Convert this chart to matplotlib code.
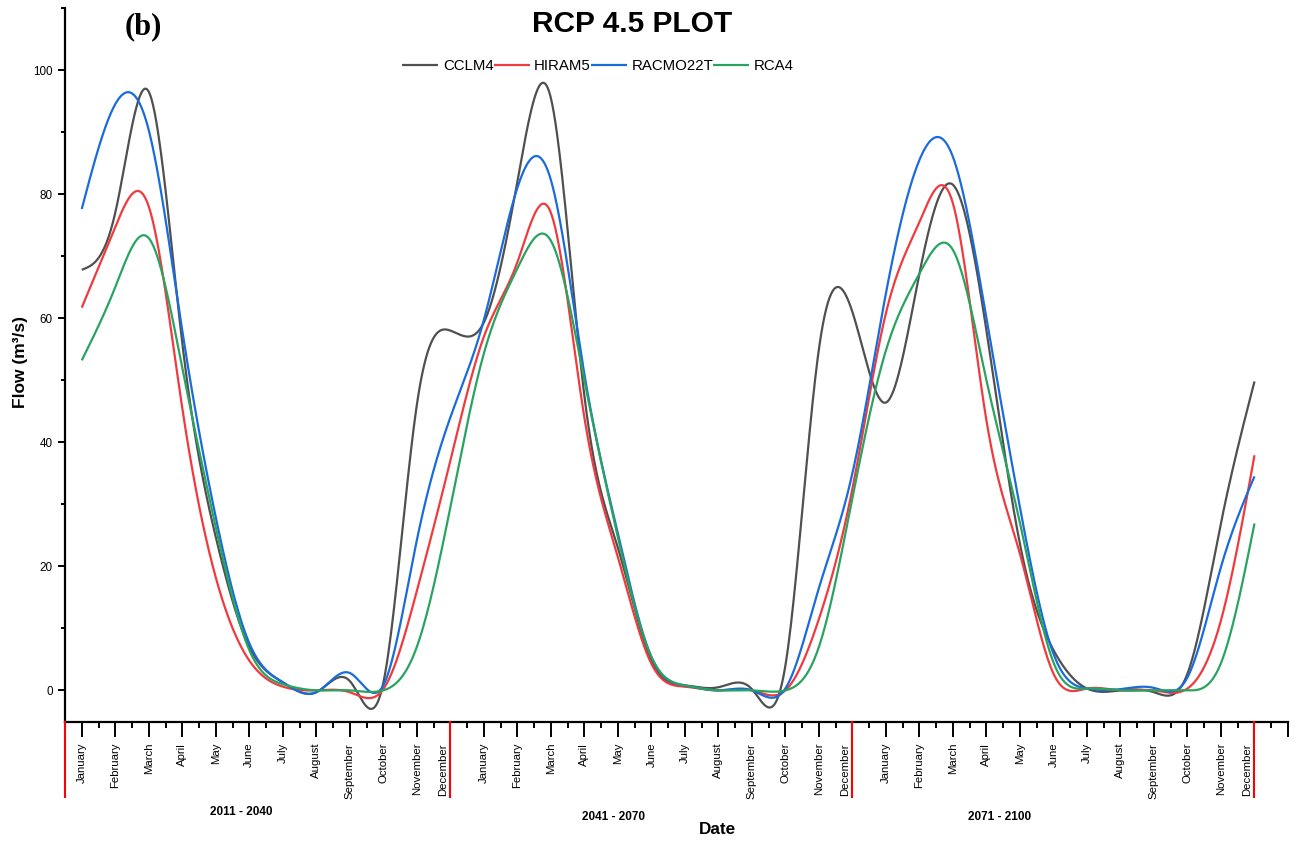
import numpy as np
import matplotlib
matplotlib.use("Agg")
import matplotlib.pyplot as plt
from matplotlib.ticker import FixedLocator
import matplotlib.transforms as mtransforms

plt.rcParams['font.family'] = ['Liberation Sans', 'DejaVu Sans']

# ---------------- data ----------------
months = ["January", "February", "March", "April", "May", "June", "July",
          "August", "September", "October", "November", "December"]
periods = ["2011 - 2040", "2041 - 2070", "2071 - 2100"]
series_names = ["CCLM4", "HIRAM5", "RACMO22T", "RCA4"]

cclm4 = [67.8, 77.0, 96.5, 56.0, 24.7, 7.0, 1.3, -0.3, 1.5, 1.2, 46.0, 58.0,
         59.3, 82.0, 95.5, 47.5, 23.0, 4.8, 0.8, 0.5, 0.2, 4.0, 55.0, 61.0,
         46.4, 67.2, 81.5, 58.0, 23.6, 6.5, 0.3, 0.0, -0.3, 2.7, 27.0, 49.8]
hiram5 = [61.7, 74.7, 78.0, 45.5, 18.2, 4.8, 0.6, 0.0, -0.3, 0.2, 16.0, 37.0,
          57.0, 69.0, 77.0, 44.0, 21.5, 4.3, 0.6, 0.0, 0.0, 0.0, 11.5, 32.5,
          60.8, 75.5, 78.5, 43.5, 22.0, 2.7, 0.3, 0.0, 0.0, 0.3, 11.3, 37.9]
racmo22t = [77.6, 94.5, 90.3, 58.0, 27.9, 7.6, 1.3, -0.3, 2.8, 0.8, 24.2, 44.0,
            59.7, 81.0, 82.3, 51.0, 25.3, 5.4, 0.8, 0.0, 0.0, 0.3, 16.5, 35.0,
            64.0, 85.5, 86.0, 60.0, 29.5, 5.9, 0.3, 0.2, 0.4, 2.1, 19.9, 34.5]
rca4 = [53.2, 65.0, 72.9, 52.0, 26.3, 6.5, 1.0, 0.0, 0.0, 0.0, 7.0, 29.5,
        54.3, 68.0, 72.5, 50.0, 24.7, 5.4, 0.8, 0.0, 0.0, 0.0, 7.0, 31.0,
        54.8, 67.2, 71.0, 50.0, 27.0, 4.5, 0.3, 0.0, 0.0, 0.0, 4.4, 26.9]

series = [cclm4, hiram5, racmo22t, rca4]
colors = ["#505050", "#F03A3E", "#1A6BDB", "#28A460"]

# ---------------- smoothing (natural cubic spline through the points) ----------------
def natural_spline(x, y, xs):
    x = np.asarray(x, float); y = np.asarray(y, float)
    n = len(x)
    h = np.diff(x)
    A = np.zeros((n, n)); r = np.zeros(n)
    A[0, 0] = 1; A[-1, -1] = 1
    for i in range(1, n - 1):
        A[i, i - 1] = h[i - 1]
        A[i, i] = 2 * (h[i - 1] + h[i])
        A[i, i + 1] = h[i]
        r[i] = 6 * ((y[i + 1] - y[i]) / h[i] - (y[i] - y[i - 1]) / h[i - 1])
    M = np.linalg.solve(A, r)
    idx = np.clip(np.searchsorted(x, xs) - 1, 0, n - 2)
    x0 = x[idx]; x1 = x[idx + 1]; hh = x1 - x0
    a = (x1 - xs) / hh; b = (xs - x0) / hh
    return (a * y[idx] + b * y[idx + 1]
            + ((a ** 3 - a) * M[idx] + (b ** 3 - b) * M[idx + 1]) * hh ** 2 / 6)

# ---------------- figure ----------------
W, H = 1295, 842
fig = plt.figure(figsize=(W / 100, H / 100), dpi=100)
ax_l, ax_r, ax_t, ax_b = 65, 1288, 8, 722
ax = fig.add_axes([ax_l / W, 1 - ax_b / H, (ax_r - ax_l) / W, (ax_b - ax_t) / H])

n = len(cclm4)
xpos = np.arange(n)
xs = np.linspace(0, n - 1, 1400)
for name, vals, c in zip(series_names, series, colors):
    ax.plot(xs, natural_spline(xpos, vals, xs), color=c, lw=1.6, label=name,
            solid_capstyle='butt')

ax.set_xlim(-0.5, 36)
ax.set_ylim(-5.1, 110)

for s in ("top", "right"):
    ax.spines[s].set_visible(False)
for s in ("left", "bottom"):
    ax.spines[s].set_linewidth(1.6)

# y ticks
ax.yaxis.set_major_locator(FixedLocator([0, 20, 40, 60, 80, 100]))
ax.yaxis.set_minor_locator(FixedLocator([10, 30, 50, 70, 90, 110]))
ax.tick_params(axis='y', which='major', direction='out', length=5, width=1.4,
               labelsize=8.4, pad=3.8)
ax.tick_params(axis='y', which='minor', direction='out', length=3, width=1.4)

# x ticks (December labels are drawn separately, just left of the red separators)
tick_labels = []
for p in periods:
    tick_labels += [m if m != "December" else "" for m in months]
tick_labels.append("")
ax.xaxis.set_major_locator(FixedLocator(list(range(n + 1))))
ax.xaxis.set_minor_locator(FixedLocator([i + 0.5 for i in range(-1, n)]))
ax.set_xticklabels(tick_labels, rotation=90)
ax.tick_params(axis='x', which='major', direction='out', length=10.8, width=1.4,
               labelsize=8.2, pad=4.2)
ax.tick_params(axis='x', which='minor', direction='out', length=4.3, width=1.4)

trans = mtransforms.blended_transform_factory(ax.transData, ax.transAxes)
lab_top = -(743 - ax_b) / (ax_b - ax_t)
dec_shift = 7 / ((ax_r - ax_l) / 36.5)
for k in range(len(periods)):
    xd = 12 * k + 11
    ax.text(xd - dec_shift, lab_top, "December", transform=trans, rotation=90,
            ha='center', va='top', fontsize=8.2)

# red period separators below the axis
sep_len = 75 / (ax_b - ax_t)
for xv in [-0.5, 11, 23, 35]:
    ax.plot([xv, xv], [0, -sep_len], transform=trans, color="#FF0000", lw=1.5,
            clip_on=False, zorder=5)

def fx(px):
    return px / W

def fy(py):
    return 1 - py / H

# period labels
for lab, (px, py) in zip(periods, [(241, 812), (614, 817), (1000, 817)]):
    fig.text(fx(px), fy(py), lab, ha='center', va='center', fontsize=8.5,
             fontweight='bold')

# axis labels and title
fig.text(fx(717), fy(829), "Date", ha='center', va='center', fontsize=12.3,
         fontweight='bold')
fig.text(fx(21), fy(362), "Flow (m³/s)", ha='center', va='center', rotation=90,
         fontsize=12.5, fontweight='bold')
fig.text(fx(632), fy(24), "RCP 4.5 PLOT", ha='center', va='center',
         fontsize=21.5, fontweight='bold')
fig.text(fx(143), fy(27), "(b)", ha='center', va='center', fontsize=22,
         family=['Liberation Serif', 'DejaVu Serif'], fontweight='bold')

ax.legend(loc='center', bbox_to_anchor=(fx(598), fy(66)),
          bbox_transform=fig.transFigure, ncol=4, frameon=False, fontsize=10.8,
          handlelength=2.4, handletextpad=0.3, columnspacing=0.0, borderpad=0,
          borderaxespad=0)

fig.savefig("out.png", dpi=100)
